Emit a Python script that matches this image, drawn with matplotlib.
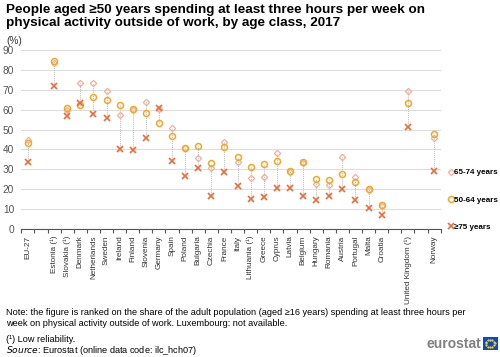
import numpy as np
import matplotlib
matplotlib.use('Agg')
import matplotlib.pyplot as plt
from matplotlib.patches import Rectangle

plt.rcParams['font.family'] = ['Liberation Sans', 'DejaVu Sans']

# categories, None = empty slot
countries = ['EU-27', None, 'Estonia (¹)', 'Slovakia (¹)', 'Denmark', 'Netherlands', 'Sweden',
             'Ireland', 'Finland', 'Slovenia', 'Germany', 'Spain', 'Poland', 'Bulgaria',
             'Czechia', 'France', 'Italy', 'Lithuania (¹)', 'Greece', 'Cyprus', 'Latvia',
             'Belgium', 'Hungary', 'Romania', 'Austria', 'Portugal', 'Malta', 'Croatia',
             None, 'United Kingdom (¹)', None, 'Norway']

age_65_74 = [44.7, None, 83.8, 59.9, 73.4, 73.4, 69.3, 57.4, 59.9, 63.8, 60.5, 51.0, 40.6,
             35.5, 30.8, 43.7, 33.6, 25.4, 26.0, 38.0, 28.6, 33.3, 22.5, 22.0, 36.3, 26.2,
             19.5, 11.6, None, 69.3, None, 45.6]
age_50_64 = [43.4, None, 84.5, 61.1, 62.4, 66.6, 65.0, 62.4, 60.2, 58.5, 53.2, 46.6, 40.9,
             41.9, 33.3, 41.2, 36.0, 31.0, 32.6, 34.3, 28.9, 33.5, 24.9, 24.5, 27.4, 23.5,
             19.8, 11.9, None, 63.4, None, 47.8]
age_75_plus = [33.5, None, 72.2, 56.9, 63.3, 57.9, 56.0, 40.4, 39.7, 45.6, 60.9, 34.0, 26.6,
               30.8, 16.3, 28.6, 21.7, 15.1, 16.1, 20.7, 20.7, 16.3, 14.6, 16.3, 20.2, 14.6,
               10.2, 6.9, None, 51.2, None, 29.3]

c_diam = '#F5AE98'
c_circ = '#F5A623'
c_x = '#EE6A38'

fig = plt.figure(figsize=(5, 3.57), dpi=100)
ax = fig.add_axes([0.042, 0.3597, 0.84, 0.4993])

x = np.arange(len(countries))
for i in x:
    vals = [v[i] for v in (age_65_74, age_50_64, age_75_plus) if v[i] is not None]
    if vals:
        ax.plot([i, i], [min(vals), max(vals)], ls=(0, (1, 1)), color='#BBBBBB', lw=0.7, zorder=1)

def series(v):
    xs = [i for i in x if v[i] is not None]
    ys = [v[i] for i in xs]
    return xs, ys

xs, ys = series(age_65_74)
h1, = ax.plot(xs, ys, 'D', ms=3.2, mfc='none', mec=c_diam, mew=0.9, ls='none', zorder=3,
              label='65-74 years')
xs, ys = series(age_50_64)
h2, = ax.plot(xs, ys, 'o', ms=4.3, mfc='none', mec=c_circ, mew=1.1, ls='none', zorder=4,
              label='50-64 years')
xs, ys = series(age_75_plus)
h3, = ax.plot(xs, ys, 'x', ms=4, color=c_x, mew=1.2, ls='none', zorder=5,
              label='≥75 years')

ax.set_xlim(-0.53, len(countries) - 0.47)
ax.set_ylim(0, 90)
ax.set_yticks(range(0, 91, 10))
ax.yaxis.grid(True, color='#DDDDDD', lw=0.8)
ax.set_axisbelow(True)
for s in ['top', 'right', 'left']:
    ax.spines[s].set_visible(False)
ax.spines['bottom'].set_color('#555555')
ax.spines['bottom'].set_linewidth(0.8)
ax.tick_params(axis='y', length=0, labelsize=7.3, colors='#555555', pad=5)

ax.set_xticks(x)
ax.set_xticklabels([c if c else '' for c in countries], rotation=90, fontsize=5.9,
                   color='#333333')
ax.tick_params(axis='x', which='major', length=0, pad=5)
ax.set_xticks(np.arange(-0.5, len(countries), 1), minor=True)
ax.tick_params(axis='x', which='minor', length=3, color='#555555', width=0.8)

fig.legend(handles=[h1, h2, h3], loc='center left', bbox_to_anchor=(0.882, 0.44),
           frameon=False, labelspacing=2.45, handletextpad=0.05, handlelength=0.7,
           prop={'weight': 'bold', 'size': 5.8})

fig.text(0.012, 0.99, 'People aged ≥50 years spending at least three hours per week on\n'
         'physical activity outside of work, by age class, 2017',
         fontsize=9.7, fontweight='bold', va='top', ha='left', linespacing=1.15)
fig.text(0.012, 0.885, '(%)', fontsize=7.3, va='center', ha='left', color='#333333')

fig.text(0.012, 0.11, 'Note: the figure is ranked on the share of the adult population (aged ≥16 years) '
         'spending at least three hours per\nweek on physical activity outside of work. '
         'Luxembourg: not available.', fontsize=6.6, va='center', ha='left', linespacing=1.25)
fig.text(0.012, 0.05, '(¹) Low reliability.', fontsize=6.6, va='center', ha='left')
fig.text(0.012, 0.018, r'$\it{Source}$: Eurostat (online data code: ilc_hch07)', fontsize=6.6,
         va='center', ha='left')

# eurostat logo
fig.text(0.963, 0.037, 'eurostat', fontsize=10, color='#808080', fontweight='bold',
         ha='right', va='center')
logo = fig.add_axes([0.966, 0.02, 0.029, 0.036])
logo.add_patch(Rectangle((0, 0), 1, 1, color='#0E47CB'))
ang = np.linspace(0, 2 * np.pi, 12, endpoint=False)
logo.plot(0.5 + 0.3 * np.cos(ang), 0.5 + 0.3 * np.sin(ang), 'o', ms=0.6, color='#FFDD00')
logo.set_xlim(0, 1)
logo.set_ylim(0, 1)
logo.axis('off')

fig.savefig('out.png', dpi=100)
